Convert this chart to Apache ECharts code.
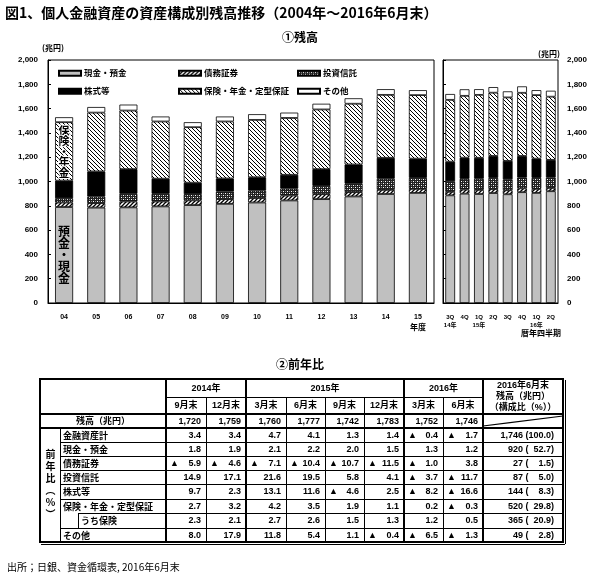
<!DOCTYPE html>
<html><head><meta charset="utf-8">
<script src="https://cdn.jsdelivr.net/npm/echarts@6/dist/echarts.min.js"></script>
<style>
html,body{margin:0;padding:0;background:#fff;}
#wrap{position:relative;width:600px;height:578px;overflow:hidden;background:#fff;}
#chart{position:absolute;left:0;top:0;width:600px;height:578px;}
#tbl{position:absolute;left:0;top:0;width:600px;height:578px;pointer-events:none;font-family:'Liberation Sans','Noto Sans CJK JP',sans-serif;font-size:9px;font-weight:bold;color:#000;}
.c{position:absolute;display:flex;align-items:center;box-sizing:border-box;white-space:pre;line-height:1;}
.l{position:absolute;background:#000;}
</style></head><body>
<div id="wrap"><div id="chart"></div><div id="tbl"></div></div>
<script>
// ---------- data: fiscal-year balances (兆円) ----------
const fyCats  = ['04','05','06','07','08','09','10','11','12','13','14','15'];
const fyCash  = [790, 785, 787, 795, 806, 816, 827, 844, 855, 877, 897, 906];
const fyBond  = [37, 37, 49, 41, 39, 39, 37, 41, 41, 36, 34, 33];
const fyTrust = [35, 55, 63, 63, 51, 63, 62, 57, 68, 69, 92, 91];
const fyStock = [145, 206, 203, 124, 94, 107, 109, 113, 138, 158, 172, 158];
const fyIns   = [481, 484, 482, 471, 457, 469, 472, 468, 491, 500, 518, 523];
const fyOther = [41, 46, 49, 41, 41, 41, 47, 44, 47, 45, 47, 41];
// ---------- data: calendar quarters ----------
const qCats   = ['3Q','4Q','1Q','2Q','3Q','4Q','1Q','2Q'];
const qYears  = ['14年','','15年','','','','16年',''];
const qCash   = [886, 900, 897, 905, 895, 912, 906, 920];
const qBond   = [29, 34, 34, 33, 33, 32, 33, 27];
const qTrust  = [87, 88, 92, 92, 90, 88, 91, 87];
const qStock  = [161, 174, 172, 180, 152, 178, 158, 144];
const qIns    = [509, 509, 518, 521, 522, 520, 523, 520];
const qOther  = [48, 54, 47, 46, 50, 53, 41, 49];
const yTickLabels = ['0','200','400','600','800','1,000','1,200','1,400','1,600','1,800','2,000'];
const seriesNames = ['現金・預金','債務証券','投資信託','株式等','保険・年金・定型保証','その他'];
// ---------- data: table ----------
const tblYears  = ['2014年','2015年','2016年'];
const tblYearSpan = [2, 4, 2];
const tblMonths = ['9月末','12月末','3月末','6月末','9月末','12月末','3月末','6月末'];
const tblBalance = ['1,720','1,759','1,760','1,777','1,742','1,783','1,752','1,746'];
const tblRows = ['金融資産計','現金・預金','債務証券','投資信託','株式等','保険・年金・定型保証','うち保険','その他'];
const yoyTotal = [3.4, 3.4, 4.7, 4.1, 1.3, 1.4, -0.4, -1.7];
const yoyCash  = [1.8, 1.9, 2.1, 2.2, 2.0, 1.5, 1.3, 1.2];
const yoyBond  = [-5.9, -4.6, -7.1, -10.4, -10.7, -11.5, -1.0, 3.8];
const yoyTrust = [14.9, 17.1, 21.6, 19.5, 5.8, 4.1, -3.7, -11.7];
const yoyStock = [9.7, 2.3, 13.1, 11.6, -4.6, 2.5, -8.2, -16.6];
const yoyIns   = [2.7, 3.2, 4.2, 3.5, 1.9, 1.1, 0.2, -0.3];
const yoyLife  = [2.3, 2.1, 2.7, 2.6, 1.5, 1.3, 1.2, 0.5];
const yoyOther = [8.0, 17.9, 11.8, 5.4, 1.1, -0.4, -6.5, -1.3];
const compValue = ['1,746','920','27','87','144','520','365','49'];
const compShare = ['100.0','52.7','1.5','5.0','8.3','29.8','20.9','2.8'];

// ---------- patterns ----------
function makePattern(w, h, draw){
  const c = document.createElement('canvas'); c.width = w; c.height = h;
  const ctx = c.getContext('2d'); draw(ctx); return {image: c, repeat: 'repeat'};
}
const insPat = makePattern(4, 4, ctx => {
  ctx.fillStyle = '#fff'; ctx.fillRect(0,0,4,4);
  ctx.strokeStyle = '#000'; ctx.lineWidth = 1;
  [[-1,-1,5,5],[3,-1,5,1],[-1,3,1,5]].forEach(p => {ctx.beginPath(); ctx.moveTo(p[0],p[1]); ctx.lineTo(p[2],p[3]); ctx.stroke();});
});
const bondPat = makePattern(4, 4, ctx => {
  ctx.fillStyle = '#fff'; ctx.fillRect(0,0,4,4);
  ctx.strokeStyle = '#000'; ctx.lineWidth = 1.3;
  [[-1,5,5,-1],[3,5,5,3],[-1,1,1,-1]].forEach(p => {ctx.beginPath(); ctx.moveTo(p[0],p[1]); ctx.lineTo(p[2],p[3]); ctx.stroke();});
});
const trustPat = makePattern(4, 4, ctx => {
  ctx.fillStyle = '#222'; ctx.fillRect(0,0,4,4);
  ctx.fillStyle = '#fff'; ctx.fillRect(1,1,1,1); ctx.fillRect(3,3,1,1);
  ctx.fillStyle = '#888'; ctx.fillRect(1,3,1,1); ctx.fillRect(3,1,1,1);
});
const fills = ['#c0c0c0', bondPat, trustPat, '#000', insPat, '#fff'];

const FONT = "'Liberation Sans','Noto Sans CJK JP',sans-serif";
const CJK = "'Noto Sans CJK JP',sans-serif";

const annot = {
  0: {show:true, position:'inside', formatter:'預\n金\n・\n現\n金', fontSize:12, lineHeight:11.7, fontWeight:'bold', color:'#000', fontFamily:CJK},
  4: {show:true, position:'inside', formatter:'保\n険\n・\n年\n金', fontSize:11, lineHeight:10.5, fontWeight:'bold', color:'#000', fontFamily:CJK, textBorderColor:'#fff', textBorderWidth:2}
};
const fyData = [fyCash, fyBond, fyTrust, fyStock, fyIns, fyOther];
const qData  = [qCash, qBond, qTrust, qStock, qIns, qOther];

const series = [];
seriesNames.forEach((name, k) => {
  const st = {color: fills[k], borderColor:'#000', borderWidth:0.8};
  series.push({name, type:'bar', stack:'fy', xAxisIndex:0, yAxisIndex:0, barWidth:'56%',
    data: fyData[k].map((v,i) => (i === 0 && annot[k]) ? {value:v, label:annot[k]} : v),
    itemStyle: st, emphasis:{disabled:true}});
  series.push({name, type:'bar', stack:'q', xAxisIndex:1, yAxisIndex:1, barWidth:'68%',
    data: qData[k], itemStyle: st, emphasis:{disabled:true}});
});

const legendPos = [[53,64],[173,64],[292,64],[53,82],[173,82],[292,82]];
const legends = seriesNames.map((n,i) => ({
  data:[n], left:legendPos[i][0], top:legendPos[i][1], itemWidth:22, itemHeight:5, itemGap:3,
  icon:'rect', selectedMode:false,
  textStyle:{fontSize:8.5, fontWeight:'bold', color:'#000', fontFamily:CJK, padding:[0,0,0,-2]}
}));

const axisTxt = {color:'#000', fontWeight:'bold', fontFamily:FONT};
const option = {
  animation:false,
  backgroundColor:'#fff',
  legend: legends,
  grid: [
    {left:48, top:60, width:386, height:243, show:true, borderColor:'#000', borderWidth:1},
    {left:443, top:60, width:115, height:243, show:true, borderColor:'#000', borderWidth:1}
  ],
  xAxis: [
    {type:'category', gridIndex:0, data:fyCats, axisLine:{lineStyle:{color:'#000'}}, axisTick:{show:false},
     axisLabel:Object.assign({fontSize:7, margin:11, interval:0,
       formatter:(v,i) => i === fyCats.length-1 ? v + '\n{u|年度}' : v,
       rich:{u:{fontSize:8, fontWeight:'bold', fontFamily:CJK, color:'#000', lineHeight:11}}}, axisTxt)},
    {type:'category', gridIndex:1, data:qCats, axisLine:{lineStyle:{color:'#000'}}, axisTick:{show:false},
     axisLabel:Object.assign({fontSize:6, margin:10, interval:0, lineHeight:8,
       formatter:(v,i) => qYears[i] ? v + '\n' + qYears[i] : v}, axisTxt)}
  ],
  yAxis: [
    {type:'value', gridIndex:0, min:0, max:2000, interval:200, splitLine:{show:false},
     axisLine:{show:true, lineStyle:{color:'#000'}}, axisTick:{show:true, inside:true, length:3, lineStyle:{color:'#000'}},
     axisLabel:Object.assign({fontSize:8, margin:10, formatter:(v,i) => yTickLabels[i]}, axisTxt)},
    {type:'value', gridIndex:1, position:'right', min:0, max:2000, interval:200, splitLine:{show:false},
     axisLine:{show:false}, axisTick:{show:false},
     axisLabel:Object.assign({fontSize:8, margin:9, formatter:(v,i) => yTickLabels[i]}, axisTxt)},
    {type:'value', gridIndex:1, position:'left', min:0, max:2000, interval:200, splitLine:{show:false},
     axisLine:{show:true, lineStyle:{color:'#000'}}, axisTick:{show:true, inside:true, length:3, lineStyle:{color:'#000'}},
     axisLabel:{show:false}}
  ],
  series,
  graphic: [
    {type:'text', x:5, y:6, style:{text:'図1、個人金融資産の資産構成別残高推移（2004年～2016年6月末）', font:'bold 14px '+CJK, fill:'#000'}},
    {type:'text', x:300, y:37, style:{text:'①残高', font:'bold 12px '+CJK, fill:'#000', align:'center', verticalAlign:'middle'}},
    {type:'text', x:42, y:48, style:{text:'(兆円)', font:'bold 8px '+CJK, fill:'#000', verticalAlign:'middle'}},
    {type:'text', x:560, y:54, style:{text:'(兆円)', font:'bold 8px '+CJK, fill:'#000', align:'right', verticalAlign:'middle'}},
    {type:'text', x:561, y:333, style:{text:'暦年四半期', font:'bold 8px '+CJK, fill:'#000', align:'right', verticalAlign:'middle'}},
    {type:'text', x:300, y:364, style:{text:'②前年比', font:'bold 12px '+CJK, fill:'#000', align:'center', verticalAlign:'middle'}},
    {type:'text', x:7, y:567, style:{text:'出所；日銀、資金循環表, 2016年6月末', font:'10px '+CJK, fill:'#000', verticalAlign:'middle'}}
  ]
};
const chart = echarts.init(document.getElementById('chart'), null, {renderer:'canvas'});
chart.setOption(option);

// ---------- table ----------
const tbl = document.getElementById('tbl');
const X = [40,60,78,166,206,246,286,325,364,404,443,483,563];
const Y = [379,397,414,428,442,456,470,484,499,513,528,542];
function box(x0,y0,x1,y1,html,css){
  const d = document.createElement('div'); d.className = 'c';
  d.style.left = x0+'px'; d.style.top = y0+'px'; d.style.width = (x1-x0)+'px'; d.style.height = (y1-y0)+'px';
  if (css) d.style.cssText += css;
  d.innerHTML = html; tbl.appendChild(d); return d;
}
function hl(x0,x1,y,w){ const d=document.createElement('div'); d.className='l';
  d.style.left=(x0-Math.floor(w/2))+'px'; d.style.top=(y-Math.floor(w/2))+'px'; d.style.width=(x1-x0+w)+'px'; d.style.height=w+'px'; tbl.appendChild(d); }
function vl(x,y0,y1,w){ const d=document.createElement('div'); d.className='l';
  d.style.left=(x-Math.floor(w/2))+'px'; d.style.top=(y0-Math.floor(w/2))+'px'; d.style.width=w+'px'; d.style.height=(y1-y0+w)+'px'; tbl.appendChild(d); }

// header
let ci = 3;
tblYears.forEach((t,i) => { box(X[ci],Y[0],X[ci+tblYearSpan[i]],Y[1],t,'justify-content:center;'); ci += tblYearSpan[i]; });
tblMonths.forEach((t,i) => box(X[3+i],Y[1],X[4+i],Y[2],t,'justify-content:center;'));
box(X[11],Y[0],X[12],Y[2],'2016年6月末\n残高（兆円）\n（構成比（%））','justify-content:center;text-align:center;line-height:11px;font-size:9px;');
box(X[0],Y[2],X[3],Y[3],'残高（兆円）','justify-content:center;');
tblBalance.forEach((t,i) => box(X[3+i],Y[2],X[4+i],Y[3],t,'justify-content:flex-end;padding-right:5px;'));
// diagonal
const svgNS = 'http://www.w3.org/2000/svg';
const svg = document.createElementNS(svgNS,'svg');
svg.setAttribute('width','600'); svg.setAttribute('height','578');
svg.style.cssText = 'position:absolute;left:0;top:0;';
const ln = document.createElementNS(svgNS,'line');
ln.setAttribute('x1',X[11]); ln.setAttribute('y1',Y[3]-2); ln.setAttribute('x2',X[12]); ln.setAttribute('y2',Y[2]+2);
ln.setAttribute('stroke','#000'); ln.setAttribute('stroke-width','1.2');
svg.appendChild(ln); tbl.appendChild(svg);
// vertical label
box(X[0],Y[3],X[1],Y[11],'前年比（％）','justify-content:center;writing-mode:vertical-rl;letter-spacing:2px;font-size:10px;font-family:'+CJK+';');
// body rows
const yoyRows = [yoyTotal, yoyCash, yoyBond, yoyTrust, yoyStock, yoyIns, yoyLife, yoyOther];
tblRows.forEach((lab,r) => {
  const y0 = Y[3+r], y1 = Y[4+r];
  const lx = (r === 6) ? X[2] : X[1];
  box(lx, y0, X[3], y1, lab, 'padding-left:3px;font-family:'+CJK+';');
  yoyRows[r].forEach((v,i) => {
    const s = Math.abs(v).toFixed(1);
    if (v < 0) box(X[3+i],y0,X[4+i],y1,'<span>▲</span><span>'+s+'</span>','justify-content:space-between;padding:0 5px 0 4px;');
    else box(X[3+i],y0,X[4+i],y1,s,'justify-content:flex-end;padding-right:5px;');
  });
  let sh = compShare[r]; while (sh.length < 5) sh = '\u2007' + sh;
  box(X[11],y0,X[12],y1,compValue[r]+' ('+sh+')','justify-content:flex-end;padding-right:9px;');
});
// lines
hl(X[0],X[12],Y[0],2);
hl(X[3],X[11],Y[1],1);
hl(X[0],X[12],Y[2],2);
hl(X[0],X[12],Y[3],2);
for (let r = 4; r <= 10; r++) hl(r === 9 ? X[2] : X[1], X[12], Y[r], 1);
hl(X[0],X[12],Y[11],2);
vl(X[0],Y[0],Y[11],2);
vl(X[1],Y[3],Y[11],1);
vl(X[2],Y[9],Y[10],1);
vl(X[3],Y[0],Y[11],2);
[4,6,7,8,10].forEach(i => vl(X[i],Y[1],Y[11],1));
[5,9,11].forEach(i => vl(X[i],Y[0],Y[11],2));
vl(X[12],Y[0],Y[11],2);
// shadow
vl(X[12]+2,Y[0]+1,Y[11]+1,1);
hl(X[0]+1,X[12]+1,Y[11]+2,1);
</script></body></html>
